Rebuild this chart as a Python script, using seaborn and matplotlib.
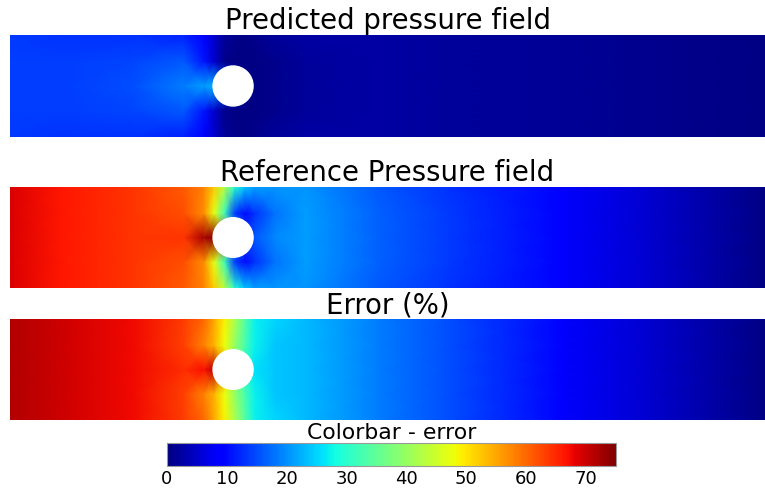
import numpy as np
import matplotlib.pyplot as plt
from matplotlib.patches import Circle
import seaborn as sns

sns.set_style("white")

# sampling stations of the channel (x along the channel, y across it)
x_st = [0, 0.25, 0.6, 0.85, 0.95, 1.0, 1.05, 1.1, 1.15, 1.2, 1.3, 1.45, 1.8, 2.15, 2.7, 3.15, 3.7]
y_st = [0, 0.13, 0.25, 0.37, 0.5]

# cylinder
cyl_x, cyl_y, cyl_r = 1.093, 0.25, 0.098

# pressure values read per row (bottom wall, below cylinder, centre line, above cylinder, top wall)
predicted = [
    [13.5, 13, 13, 12, 8.5, 5, 2, 1, 0.5, 1, 2, 2.5, 2.5, 2, 1.5, 1, 0.5],
    [14, 14, 14.5, 16, 11, 5, 1, 0.5, 0.5, 0.5, 1, 2, 2.5, 2, 1.5, 1, 0.5],
    [14, 14, 15, 18.5, 21, 22, 15, 5, 1, 0.5, 1, 2, 2.5, 2, 1.5, 1, 0.5],
    [14, 14, 14.5, 16, 11, 5, 1, 0.5, 0.5, 0.5, 1, 2, 2.5, 2, 1.5, 1, 0.5],
    [13.5, 13, 13, 12, 8.5, 5, 2, 1, 0.5, 1, 2, 2.5, 2.5, 2, 1.5, 1, 0.5],
]
reference = [
    [69, 66.5, 64, 61, 58, 52, 43, 30, 24, 21, 20.5, 20.5, 16, 13, 9, 5, 0.5],
    [69, 66.5, 64, 62, 57, 47, 32, 14, 10, 13, 18, 21, 16.5, 13.5, 9, 5, 0.5],
    [69, 66.5, 64, 64, 72.5, 74, 60, 30, 14, 16, 19.5, 21, 16.5, 13.5, 9, 5, 0.5],
    [69, 66.5, 64, 62, 57, 47, 32, 14, 10, 13, 18, 21, 16.5, 13.5, 9, 5, 0.5],
    [69, 66.5, 64, 61, 58, 52, 43, 30, 24, 21, 20.5, 20.5, 16, 13, 9, 5, 0.5],
]
error = [
    [71.5, 70, 67.5, 63.5, 60, 55, 49, 42, 34, 27, 25, 23, 18.5, 15, 9.5, 5, 0.5],
    [71.5, 70, 67.5, 63, 58, 54, 48, 40, 33, 27, 24, 23, 18.5, 15, 9.5, 5, 0.5],
    [71.5, 70, 67.5, 64.5, 67, 71, 55, 40, 30, 26, 24, 23, 18.5, 15, 9.5, 5, 0.5],
    [71.5, 70, 67.5, 63, 58, 54, 48, 40, 33, 27, 24, 23, 18.5, 15, 9.5, 5, 0.5],
    [71.5, 70, 67.5, 63.5, 60, 55, 49, 42, 34, 27, 25, 23, 18.5, 15, 9.5, 5, 0.5],
]

titles = ["Predicted pressure field", "Reference Pressure field", "Error (%)"]
fields = [predicted, reference, error]
vmin, vmax = 0, 75
cbar_ticks = [0, 10, 20, 30, 40, 50, 60, 70]

cmap = plt.get_cmap("jet")
X, Y = np.meshgrid(x_st, y_st)

fig = plt.figure(figsize=(7.65, 4.88), dpi=100)
boxes = [[0.0131, 0.7193, 0.987, 0.209],
         [0.0131, 0.4098, 0.987, 0.207],
         [0.0131, 0.1393, 0.987, 0.207]]

for box, field, title in zip(boxes, fields, titles):
    ax = fig.add_axes(box)
    mesh = ax.pcolormesh(X, Y, np.array(field), cmap=cmap, vmin=vmin, vmax=vmax,
                         shading="gouraud")
    ax.add_patch(Circle((cyl_x, cyl_y), cyl_r, color="white", zorder=3))
    ax.set_xlim(0, 3.7)
    ax.set_ylim(0, 0.5)
    ax.set_title(title, fontsize=19.8, pad=4, color="black")
    ax.axis("off")

cax = fig.add_axes([0.2183, 0.0451, 0.587, 0.0471])
cb = fig.colorbar(mesh, cax=cax, orientation="horizontal")
cb.set_ticks(cbar_ticks)
cb.outline.set_edgecolor("0.6")
cax.tick_params(labelsize=13, length=0, pad=3, labelcolor="black")
cax.set_title("Colorbar - error", fontsize=15.75, pad=2, color="black")

fig.savefig("out.png", dpi=100)
